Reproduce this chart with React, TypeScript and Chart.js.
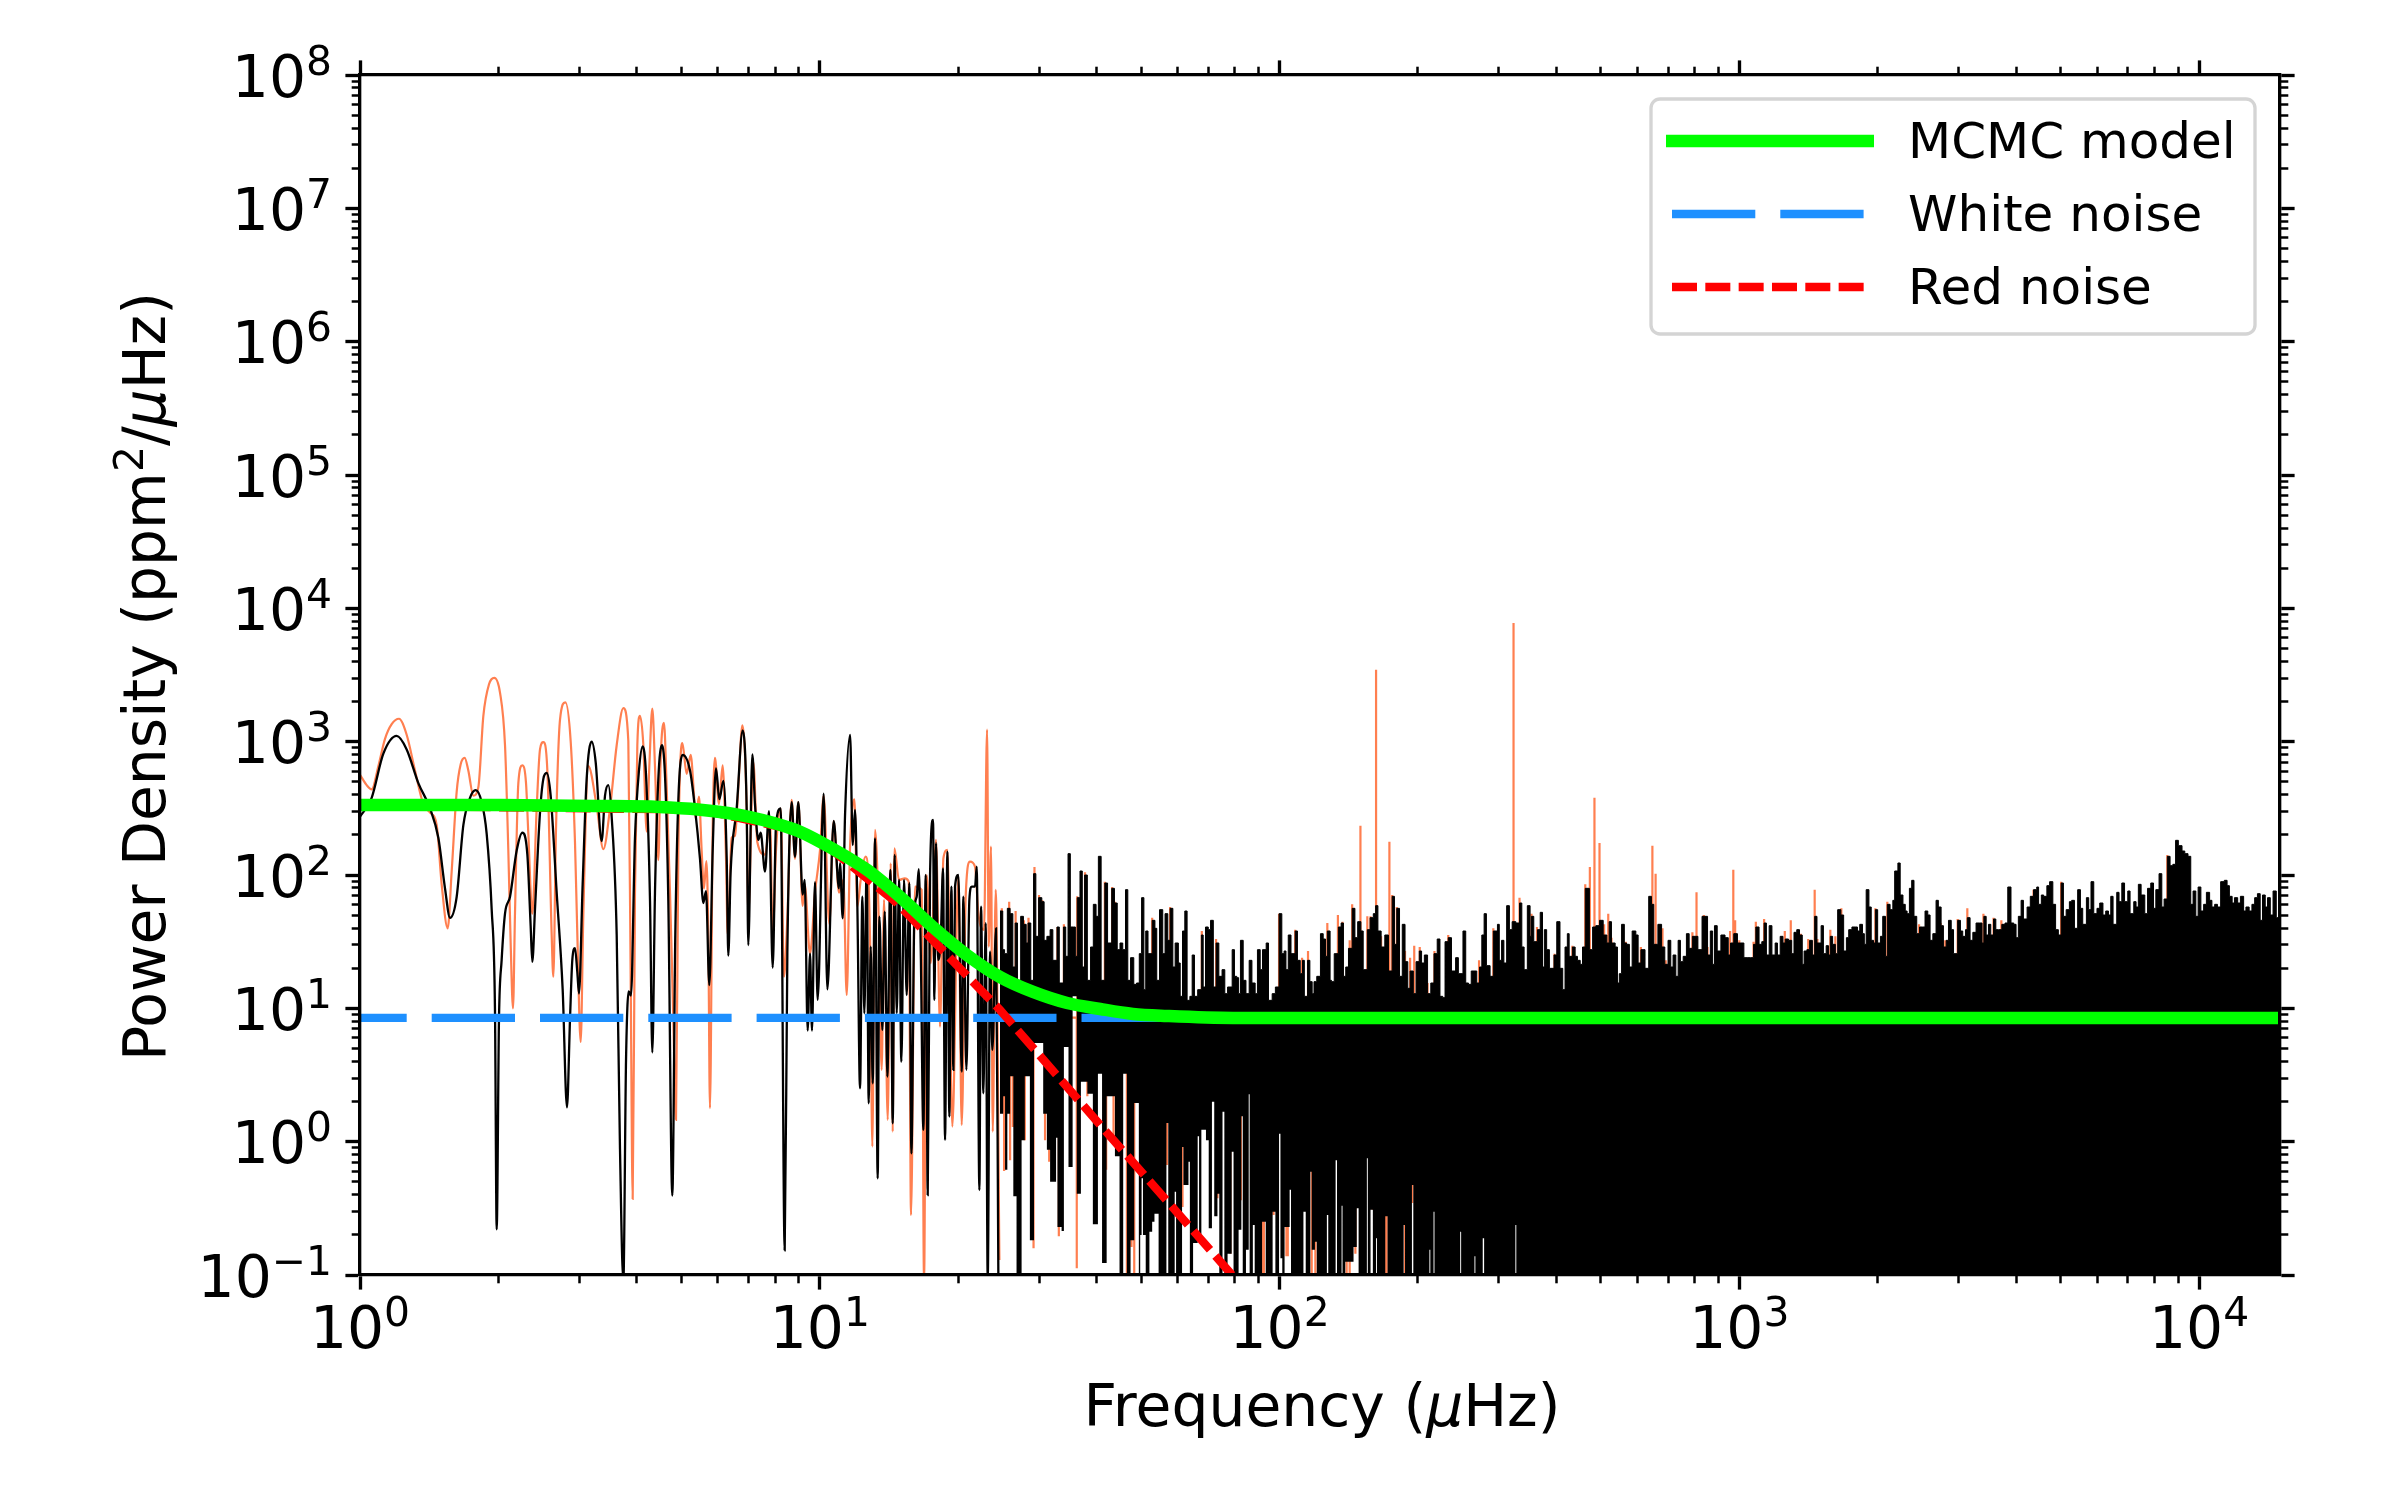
import { useEffect, useRef } from "react";
import { Chart, registerables } from "chart.js";

Chart.register(...registerables);

const FONT = "'DejaVu Sans'";
const TEXT_SIZE = 58.33;

const xDecades = [1, 10, 100, 1000, 10000];
const xExponents = ["0", "1", "2", "3", "4"];
const yDecades = [0.1, 1, 10, 100, 1000, 1e4, 1e5, 1e6, 1e7, 1e8];
const yExponents = ["−1", "0", "1", "2", "3", "4", "5", "6", "7", "8"];
const minorSteps = [2, 3, 4, 5, 6, 7, 8, 9];

// all traces below as [log10 frequency, log10 power]
const modelCurve = [[0,2.525],[0.305,2.525],[0.522,2.518],[0.65,2.51],[0.74,2.49],[0.8,2.465],[0.848,2.435],[0.9,2.39],[0.957,2.325],[1.029,2.195],[1.103,2.038],[1.175,1.835],[1.246,1.61],[1.32,1.4],[1.392,1.235],[1.464,1.123],[1.538,1.04],[1.61,0.995],[1.681,0.958],[1.755,0.943],[1.899,0.928],[4.18,0.928]];
const whiteCurve = [[0,0.928],[4.18,0.928]];
const redCurve = [[0,2.52],[0.74,2.49],[0.957,2.33],[1.029,2.18],[1.168,1.79],[1.392,0.988],[1.61,0.125],[1.893,-0.985],[2.2,-2.2]];

// black periodogram, low frequencies, where single lobes can be followed
const smoothedTrace = [[0,2.437],[0.0254,2.579],[0.0508,2.91],[0.0798,3.043],[0.1015,2.942],[0.1269,2.689],[0.1523,2.5],[0.1704,2.279],[0.1849,1.9],[0.1958,1.679],[0.2103,1.837],[0.2248,2.374],[0.2393,2.579],[0.2516,2.636],[0.2646,2.547],[0.2755,2.31],[0.2864,1.742],[0.2936,0.984],[0.2973,-0.657],[0.3023,0.921],[0.3081,1.363],[0.3154,1.711],[0.3263,1.837],[0.3408,2.184],[0.3531,2.317],[0.364,2.153],[0.3712,1.616],[0.3748,1.348],[0.3806,1.742],[0.3915,2.468],[0.3988,2.721],[0.406,2.765],[0.4147,2.595],[0.4278,1.868],[0.4408,1.142],[0.4502,0.258],[0.4568,0.921],[0.4618,1.363],[0.4676,1.452],[0.4727,1.269],[0.4763,1.111],[0.4843,1.932],[0.493,2.721],[0.5039,3],[0.5126,2.847],[0.5256,2.254],[0.5329,2.595],[0.5401,2.674],[0.5474,2.437],[0.5583,1.553],[0.5655,-0.057],[0.5728,-1.05],[0.5786,0.606],[0.5844,1.127],[0.5894,1.095],[0.5981,2.279],[0.6068,2.784],[0.6148,2.964],[0.6221,2.752],[0.6308,1.805],[0.6358,0.669],[0.6416,1.868],[0.6489,2.721],[0.6569,2.973],[0.6641,2.689],[0.6706,1.805],[0.6793,-0.405],[0.6858,1.553],[0.6924,2.563],[0.7018,2.901],[0.7178,2.784],[0.7286,2.5],[0.7395,2.121],[0.7468,1.79],[0.7526,1.878],[0.7598,1.174],[0.7671,2.184],[0.7743,2.8],[0.7816,2.569],[0.7903,2.705],[0.7976,2.121],[0.8011,1.395],[0.8062,2.026],[0.8193,2.5],[0.8323,3.084],[0.841,2.5],[0.8446,1.474],[0.8533,2.904],[0.8591,2.532],[0.8664,2.263],[0.8715,2.317],[0.8809,2.026],[0.8896,2.478],[0.8976,1.306],[0.9048,2.374],[0.915,2.5],[0.9237,-0.815],[0.9295,1.411],[0.9389,2.547],[0.9461,2.137],[0.9534,2.547],[0.9628,1.853],[0.9672,1.963],[0.9737,0.833],[0.9788,1.411],[0.9831,0.833],[0.9896,1.947],[0.9954,1.063],[1.0085,2.61],[1.0165,1.142],[1.0303,2.405],[1.0418,1.9],[1.0441,2.088],[1.0499,1.675],[1.055,2.45],[1.066,3.05],[1.0717,2.225],[1.0767,2.488],[1.0818,1.763],[1.0876,0.4],[1.0927,1.838],[1.097,0.963],[1.1021,2.088],[1.1065,0.288],[1.1108,1.463],[1.1152,0.438],[1.1202,2.275],[1.126,-0.275],[1.1297,1.688],[1.1362,0.838],[1.1413,1.725],[1.147,0.488],[1.1536,2.038],[1.1587,0.138],[1.163,2.15],[1.1674,0.963],[1.1724,1.963],[1.1775,0.6],[1.1833,1.963],[1.1891,1.1],[1.1949,1.938],[1.1993,-0.088],[1.2058,1.713],[1.2109,1.838],[1.2152,2.043],[1.2196,1.45],[1.2254,0.088],[1.2304,2],[1.2348,-0.4],[1.2399,2],[1.2464,2.413],[1.2493,1.063],[1.2529,2.238],[1.2573,1.363],[1.2631,1.513],[1.2681,2.05],[1.2725,0.013],[1.2776,2.175],[1.2819,0.188],[1.2863,1.913],[1.2906,0.538],[1.2942,1.913],[1.3015,2],[1.3087,0.525],[1.3124,1.838],[1.3189,0.538],[1.3254,1.813],[1.3305,1.913],[1.3377,1.913],[1.3414,2.063],[1.3472,-0.363],[1.3508,1.763],[1.3559,0.363],[1.3609,1.638],[1.3653,-1.04],[1.3704,1.425],[1.3754,0.688],[1.3834,1.6],[1.3885,-1.04]];

// black periodogram above that: too dense for a single line, so top and bottom edge of the mass
const smoothedTop = [[1.392,1.73],[1.398,1.44],[1.402,1.41],[1.408,1.75],[1.414,1.71],[1.42,1.31],[1.425,1.64],[1.43,1.21],[1.437,1.69],[1.443,1.63],[1.449,1.49],[1.453,1.64],[1.459,1.21],[1.465,2.01],[1.47,1.54],[1.476,1.83],[1.483,1.8],[1.488,1.51],[1.494,1.54],[1.501,1.59],[1.507,1.36],[1.516,1.61],[1.521,1.19],[1.53,1.61],[1.535,1.39],[1.54,2.16],[1.545,1.61],[1.552,1.61],[1.556,1.39],[1.56,1.83],[1.566,2.03],[1.571,1.31],[1.576,2],[1.582,1.21],[1.589,1.46],[1.595,1.78],[1.601,1.69],[1.606,2.14],[1.612,1.21],[1.62,1.94],[1.626,1.49],[1.635,1.9],[1.641,1.79],[1.647,1.44],[1.653,1.49],[1.659,1.44],[1.665,1.89],[1.67,1.21],[1.676,1.38],[1.683,1.18],[1.689,1.19],[1.695,1.41],[1.7,1.83],[1.705,1.14],[1.709,1.58],[1.714,1.41],[1.723,1.66],[1.729,1.6],[1.733,1.21],[1.739,1.74],[1.746,1.41],[1.751,1.71],[1.757,1.51],[1.762,1.75],[1.768,1.31],[1.773,1.49],[1.78,1.34],[1.784,1.09],[1.789,1.58],[1.794,1.73],[1.799,1.06],[1.805,1.09],[1.81,1.4],[1.815,1.09],[1.822,1.14],[1.83,1.55],[1.834,1.16],[1.839,1.61],[1.845,1.59],[1.85,1.66],[1.856,1.16],[1.862,1.49],[1.868,1.24],[1.875,1.29],[1.881,1.11],[1.887,1.16],[1.897,1.44],[1.902,1.24],[1.907,1.23],[1.911,1.11],[1.915,1.51],[1.921,1.21],[1.927,1.11],[1.934,1.36],[1.94,1.19],[1.947,1.11],[1.952,1.44],[1.958,1.29],[1.963,1.44],[1.971,1.49],[1.976,1.06],[1.984,1.11],[1.991,1.16],[1.999,1.71],
[2.005,1.41],[2.01,1.43],[2.014,1.29],[2.019,1.55],[2.025,1.41],[2.034,1.58],[2.039,1.36],[2.045,1.26],[2.05,1.36],[2.054,1.09],[2.061,1.36],[2.066,1.2],[2.071,1.11],[2.075,1.2],[2.081,1.24],[2.089,1.56],[2.095,1.52],[2.1,1.39],[2.104,1.58],[2.11,1.21],[2.113,1.2],[2.119,1.41],[2.128,1.61],[2.134,1.64],[2.139,1.24],[2.144,1.31],[2.15,1.45],[2.158,1.75],[2.164,1.53],[2.17,1.65],[2.177,1.58],[2.182,1.29],[2.191,1.59],[2.197,1.68],[2.204,1.71],[2.209,1.77],[2.214,1.58],[2.221,1.46],[2.229,1.55],[2.237,1.28],[2.245,1.84],[2.25,1.48],[2.255,1.75],[2.261,1.24],[2.267,1.63],[2.273,1.35],[2.279,1.15],[2.284,1.28],[2.291,1.11],[2.297,1.35],[2.304,1.43],[2.309,1.34],[2.315,1.4],[2.322,1.11],[2.329,1.19],[2.336,1.41],[2.343,1.52],[2.349,1.09],[2.355,1.08],[2.36,1.5],[2.367,1.53],[2.374,1.28],[2.383,1.38],[2.389,1.26],[2.399,1.58],[2.405,1.19],[2.411,1.18],[2.417,1.28],[2.423,1.28],[2.429,1.19],[2.435,1.31],[2.44,1.55],[2.445,1.71],[2.45,1.32],[2.458,1.24],[2.465,1.58],[2.474,1.63],[2.478,1.36],[2.483,1.51],[2.488,1.34],[2.494,1.77],[2.5,1.59],[2.506,1.65],[2.514,1.64],[2.522,1.79],[2.527,1.46],[2.532,1.29],[2.539,1.77],[2.545,1.54],[2.548,1.69],[2.553,1.5],[2.561,1.59],[2.567,1.72],[2.572,1.31],[2.576,1.59],[2.581,1.44],[2.587,1.3],[2.597,1.4],[2.603,1.65],[2.61,1.3],[2.616,1.14],[2.621,1.46],[2.626,1.56],[2.63,1.39],[2.637,1.46],[2.643,1.39],[2.648,1.36],[2.654,1.33],[2.659,1.46],[2.665,1.9],[2.674,1.44],[2.681,1.61],[2.688,1.62],[2.696,1.66],[2.704,1.55],[2.712,1.49],[2.717,1.65],[2.722,1.49],[2.73,1.46],[2.735,1.19],[2.739,1.26],[2.744,1.63],[2.75,1.49],[2.755,1.48],[2.761,1.31],[2.767,1.58],[2.775,1.55],[2.78,1.34],[2.786,1.44],[2.795,1.3],[2.803,1.84],[2.809,1.78],[2.814,1.48],[2.823,1.63],[2.831,1.46],[2.838,1.33],[2.845,1.51],[2.851,1.31],[2.856,1.4],[2.862,1.24],[2.867,1.51],[2.872,1.35],[2.878,1.39],[2.885,1.56],[2.891,1.45],[2.898,1.54],[2.904,1.54],[2.91,1.44],[2.919,1.69],[2.925,1.69],[2.931,1.4],[2.937,1.58],[2.942,1.33],[2.946,1.62],[2.952,1.43],[2.96,1.55],[2.969,1.53],[2.976,1.4],[2.981,1.49],[2.988,1.56],[2.996,1.49],[3.002,1.49],[3.01,1.38],[3.017,1.38],[3.025,1.38],[3.031,1.48],[3.036,1.61],[3.043,1.48],[3.049,1.5],[3.054,1.64],[3.059,1.4],[3.065,1.62],[3.071,1.4],[3.078,1.49],[3.083,1.4],
[3.089,1.54],[3.095,1.49],[3.1,1.52],[3.107,1.51],[3.114,1.41],[3.119,1.57],[3.125,1.59],[3.131,1.55],[3.137,1.33],[3.141,1.43],[3.147,1.44],[3.153,1.51],[3.159,1.4],[3.164,1.69],[3.169,1.49],[3.178,1.62],[3.183,1.41],[3.189,1.47],[3.194,1.4],[3.198,1.54],[3.203,1.48],[3.209,1.41],[3.214,1.74],[3.221,1.7],[3.227,1.43],[3.233,1.53],[3.238,1.59],[3.245,1.61],[3.252,1.61],[3.257,1.58],[3.262,1.63],[3.268,1.56],[3.272,1.48],[3.276,1.89],[3.282,1.76],[3.287,1.51],[3.292,1.49],[3.296,1.74],[3.301,1.49],[3.307,1.54],[3.312,1.69],[3.318,1.39],[3.322,1.78],[3.328,1.74],[3.334,1.81],[3.338,2.03],[3.345,2.09],[3.35,1.85],[3.356,1.78],[3.361,1.73],[3.365,1.71],[3.37,1.9],[3.375,1.96],[3.38,1.69],[3.386,1.56],[3.392,1.61],[3.399,1.61],[3.404,1.73],[3.41,1.7],[3.415,1.51],[3.421,1.56],[3.428,1.81],[3.433,1.76],[3.439,1.62],[3.444,1.46],[3.45,1.51],[3.455,1.66],[3.461,1.59],[3.466,1.41],[3.475,1.66],[3.481,1.58],[3.486,1.54],[3.492,1.59],[3.496,1.68],[3.502,1.51],[3.508,1.57],[3.515,1.64],[3.522,1.64],[3.528,1.49],[3.532,1.69],[3.537,1.55],[3.542,1.63],[3.547,1.55],[3.553,1.67],[3.558,1.59],[3.564,1.59],[3.571,1.63],[3.578,1.64],[3.584,1.91],[3.591,1.64],[3.597,1.63],[3.602,1.53],[3.607,1.69],[3.613,1.81],[3.618,1.67],[3.626,1.76],[3.633,1.84],[3.64,1.89],[3.647,1.91],[3.651,1.78],[3.657,1.85],[3.662,1.84],[3.669,1.92],[3.675,1.95],[3.682,1.78],[3.688,1.59],[3.694,1.55],[3.7,1.94],[3.705,1.69],[3.711,1.74],[3.718,1.8],[3.723,1.81],[3.729,1.6],[3.736,1.89],[3.742,1.75],[3.747,1.63],[3.755,1.83],[3.76,1.74],[3.765,1.95],[3.771,1.71],[3.778,1.75],[3.784,1.79],[3.791,1.7],[3.797,1.73],[3.803,1.7],[3.808,1.84],[3.813,1.63],[3.821,1.87],[3.826,1.8],[3.832,1.94],[3.838,1.8],[3.845,1.88],[3.85,1.71],[3.858,1.8],[3.863,1.76],[3.868,1.93],[3.874,1.85],[3.882,1.71],[3.888,1.9],[3.895,1.94],[3.901,1.75],[3.906,1.89],[3.913,2.01],[3.919,1.76],[3.924,1.82],[3.931,2.14],[3.937,2.07],[3.943,2.08],[3.949,2.26],[3.955,2.22],[3.963,2.18],[3.969,2.16],[3.976,2.14],[3.982,1.78],[3.987,1.88],[3.993,1.69],[3.998,1.91],[4.004,1.73],[4.01,1.78],[4.016,1.87],[4.023,1.81],[4.028,1.76],[4.034,1.78],[4.04,1.76],[4.047,1.95],[4.055,1.96],[4.061,1.92],[4.066,1.84],[4.072,1.79],[4.077,1.83],[4.084,1.79],[4.09,1.84],[4.097,1.73],[4.102,1.76],[4.109,1.73],[4.115,1.78],[4.121,1.83],[4.127,1.86],[4.133,1.66],[4.138,1.85],[4.144,1.76],[4.149,1.83],[4.155,1.7],[4.161,1.88],[4.168,1.68],[4.173,1.84],[4.18,1.84]];
const smoothedFloor = [[1.392,0.21],[1.399,0.34],[1.403,-0.21],[1.408,0.21],[1.414,0.49],[1.421,-0.41],[1.428,-1.05],[1.439,0.01],[1.446,0.49],[1.457,-0.74],[1.466,0.74],[1.486,0.21],[1.494,-0.06],[1.501,-0.3],[1.514,0.03],[1.517,-0.64],[1.526,-0.67],[1.531,0.71],[1.541,-0.19],[1.55,1.09],[1.559,-0.39],[1.568,0.45],[1.582,0.36],[1.594,-0.62],[1.605,0.51],[1.614,-0.91],[1.624,0.34],[1.642,-0.11],[1.652,-1.05],[1.66,0.51],[1.668,-1.05],[1.676,-0.74],[1.684,0.29],[1.694,-1.05],
[1.697,-0.7],[1.7,-0.275],[1.703,-0.7],[1.709,-1.05],[1.717,-0.675],[1.723,-0.6],[1.728,-0.54],[1.737,-1.05],[1.754,0.14],[1.758,-1.05],[1.772,-0.375],[1.775,-1.05],[1.788,-0.04],[1.791,-0.325],[1.802,-0.15],[1.805,-1.05],[1.812,-0.76],[1.822,0.04],[1.825,-0.76],[1.83,0.09],[1.84,0.01],[1.846,-0.65],[1.853,0.3],[1.858,-0.56],[1.865,-0.39],[1.869,-1.05],[1.876,0.225],[1.88,-1.05],[1.887,-0.84],[1.896,-0.075],[1.9,-1.05],[1.911,-0.66],[1.917,0.19],[1.92,-1.05],[1.927,-0.81],[1.933,0.355],[1.935,-1.05],[1.942,-0.625],[1.946,-1.05],[1.962,-0.6],[1.97,-1.05],[1.985,-0.525],[1.991,-1.05],[1.999,0.06],[2.002,-0.875],[2.006,-1.05],[2.011,-0.64],[2.022,-0.36],[2.025,-1.05],[2.033,-1],[2.036,-1.05],[2.052,-0.525],[2.057,-1.05],[2.067,-0.225],[2.07,-0.81],[2.077,-0.75],[2.081,-1.05],[2.103,-0.55],[2.106,-1.05],[2.122,-0.14],[2.125,-1.05],[2.135,-0.48],[2.137,-1.05],[2.143,-0.9],[2.161,-0.79],[2.168,-0.5],[2.172,-1.05],[2.19,-0.125],[2.192,-1.05],[2.198,-0.51],[2.203,-1.05],[2.21,-0.725],[2.212,-1.05],[2.23,-0.56],[2.235,-1.05],[2.27,-0.625],[2.273,-1.05],[2.288,-0.325],[2.291,-1.05],[2.326,-0.81],[2.328,-1.05],[2.335,-0.525],[2.337,-1.05],[2.393,-0.675],[2.395,-1.05],[2.424,-0.86],[2.426,-1.05],[2.442,-0.725],[2.445,-1.05],[2.513,-0.625],[2.515,-1.05],[4.18,-1.05]];

// coral periodogram, continuous part
const rawTrace = [[0,2.752],[0.0145,2.674],[0.0254,2.642],[0.0399,2.816],[0.0544,3.021],[0.0689,3.131],[0.0848,3.172],[0.1015,3.052],[0.1196,2.784],[0.1378,2.531],[0.1523,2.468],[0.1668,2.374],[0.1776,1.932],[0.1907,1.6],[0.1994,2.026],[0.2103,2.626],[0.219,2.831],[0.2277,2.879],[0.2356,2.784],[0.2465,2.595],[0.2574,2.658],[0.2683,3.194],[0.2806,3.431],[0.2922,3.479],[0.3045,3.368],[0.3154,2.973],[0.3226,2.184],[0.3277,1.49],[0.3328,1],[0.3371,1.711],[0.3444,2.689],[0.3531,2.822],[0.3611,2.689],[0.3661,2.31],[0.3748,1.711],[0.3843,2.5],[0.3915,2.942],[0.3988,2.996],[0.4075,2.784],[0.4169,1.553],[0.4205,1.237],[0.4263,2.342],[0.435,3.163],[0.4466,3.295],[0.4582,3.005],[0.4676,2.247],[0.4727,1.553],[0.48,0.748],[0.4858,1.711],[0.4966,2.816],[0.5148,2.516],[0.5293,2.194],[0.5438,2.5],[0.5583,2.973],[0.5728,3.251],[0.5836,3.005],[0.5887,1.237],[0.5931,-0.43],[0.5981,1.868],[0.6032,2.973],[0.609,3.194],[0.6163,2.973],[0.6235,2.326],[0.6293,2.816],[0.6358,3.248],[0.6416,2.816],[0.6489,2.112],[0.654,2.879],[0.6612,3.141],[0.667,2.658],[0.6743,1.868],[0.6815,0.921],[0.6873,0.164],[0.6924,2.184],[0.7011,2.989],[0.7105,2.759],[0.7192,2.901],[0.7265,2.595],[0.7301,2.421],[0.7373,2.588],[0.7431,2.184],[0.7482,1.9],[0.7533,2.105],[0.7576,1.553],[0.7612,0.252],[0.7671,2.342],[0.7721,2.879],[0.7808,2.531],[0.7888,2.822],[0.7961,2.121],[0.7997,1.553],[0.8084,2.279],[0.8156,2.295],[0.8229,2.658],[0.8316,3.122],[0.841,2.5],[0.8446,1.711],[0.8555,2.847],[0.8642,2.247],[0.8809,2.153],[0.8918,2.405],[0.8976,1.553],[0.9048,2.184],[0.915,2.5],[0.9222,1.237],[0.9295,1.679],[0.9389,2.563],[0.9461,2.121],[0.9534,2.547],[0.9628,1.768],[0.9672,1.932],[0.9788,1.411],[0.9896,1.868],[1.0005,2.184],[1.0085,2.595],[1.0208,1.632],[1.0303,2.405],[1.0418,1.868],[1.0514,1.963],[1.0586,1.1],[1.0659,2.213],[1.0753,2.568],[1.0818,1.763],[1.0891,1.963],[1.0999,2.138],[1.1094,1.513],[1.1144,-0.037],[1.1202,2.338],[1.1275,1.763],[1.1347,0.538],[1.1398,1.813],[1.1478,0.163],[1.1543,2.088],[1.1587,0.075],[1.1623,2.2],[1.1724,1.963],[1.1848,1.975],[1.1935,1.95],[1.1985,-0.55],[1.2072,1.913],[1.2217,1.888],[1.2268,-1.05],[1.2326,2],[1.2413,1.338],[1.2529,2.263],[1.2616,0.863],[1.2689,2.125],[1.2776,2.188],[1.2884,0.113],[1.3015,1.988],[1.3087,0.125],[1.3174,1.838],[1.3269,2.1],[1.3377,2.063],[1.345,1.713],[1.3573,1.588],[1.3639,3.09],[1.3675,1.463],[1.3725,2.213],[1.3762,0.075],[1.3827,1.888],[1.3907,-0.887]];

// coral tips that stick out of the black mass, above it or in its gaps
const rawSpikes = [[1.396,1.75],[1.401,-0.22],[1.412,1.8],[1.414,-0.14],[1.42,0.11],[1.426,1.73],[1.435,-1.05],[1.444,1.66],[1.446,0.01],[1.454,1.68],[1.465,-0.8],[1.467,2.06],[1.477,1.85],[1.484,1.81],[1.49,0.01],[1.499,-0.15],[1.517,1.61],[1.52,-0.71],[1.531,1.63],[1.559,-0.95],[1.56,1.84],[1.577,2.02],[1.582,0.34],[1.62,1.95],[1.623,-0.21],[1.636,1.91],[1.639,-0.01],[1.642,1.8],[1.668,-1.05],[1.678,-0.79],[1.684,-1.05],[1.723,1.68],[1.755,-0.175],[1.762,1.76],[1.78,1.34],[1.789,-0.49],[1.831,1.58],[1.862,1.52],[1.865,-0.425],[1.893,-0.84],[1.916,-0.44],[1.963,-1.05],[1.966,-1.05],[1.987,-0.55],[1.999,1.71],[2.015,-0.86],[2.018,-0.86],[2.034,1.59],[2.049,1.38],[2.062,1.43],[2.07,-1.05],[2.078,-1.05],[2.104,1.64],[2.127,1.7],[2.137,1.65],[2.146,-1.05],[2.152,-1.05],[2.153,1.51],[2.158,1.78],[2.165,-0.84],[2.176,2.37],[2.191,1.69],[2.198,1.69],[2.203,-0.51],[2.21,3.54],[2.221,1.54],[2.23,-1.05],[2.233,-1.05],[2.239,2.25],[2.245,1.85],[2.255,1.76],[2.273,1.43],[2.273,-1.05],[2.284,1.38],[2.289,-0.46],[2.293,1.47],[2.305,1.46],[2.322,1.19],[2.337,1.43],[2.367,1.55],[2.434,1.36],[2.465,1.6],[2.503,-1.05],[2.509,3.89],[2.522,1.83],[2.548,1.71],[2.56,1.61],[2.598,1.41],[2.637,1.47],[2.665,1.93],[2.675,2.06],[2.685,2.58],[2.696,2.24],[2.706,1.63],[2.715,1.71],[2.722,1.53],[2.753,1.5],[2.786,1.46],[2.811,2.22],[2.818,2.01],[2.833,1.6],[2.84,1.36],[2.898,1.57],[2.907,1.87],[2.923,1.7],[2.931,1.46],[2.98,1.58],[2.987,2.04],[2.991,1.66],[3,1.51],[3.031,1.5],[3.036,1.65],[3.054,1.67],[3.099,1.58],[3.112,1.66],[3.134,1.56],[3.15,1.52],[3.164,1.89],[3.17,1.52],[3.198,1.59],[3.209,1.54],[3.222,1.75],[3.296,1.75],[3.322,1.8],[3.391,1.63],[3.438,1.64],[3.448,1.51],[3.475,1.67],[3.496,1.75],[3.531,1.71],[3.553,1.68],[3.57,1.66],[3.64,1.89],[3.7,1.95],[3.931,2.15]];
const spikeBase = 0.93;

const toXY = (pairs: number[][]) => pairs.map(([f, p]) => ({ x: 10 ** f, y: 10 ** p }));
const spikesToXY = (pairs: number[][]) =>
  toXY(pairs.flatMap(([f, p]) => [[f, spikeBase], [f, p], [f, spikeBase]]));

const minorsOf = (decades: number[], max: number) =>
  decades.flatMap((d) => minorSteps.map((m) => m * d)).filter((v) => v < max);

// one log axis; tickValues decides what it marks, the frame is four major and four minor axes
function logAxis(axis: string, position: string, tickValues: number[], major: boolean, size: number) {
  const horizontal = axis === "x";
  return {
    type: "logarithmic",
    axis,
    position,
    min: horizontal ? 1 : 0.1,
    max: horizontal ? 15000 : 1e8,
    weight: major ? 0 : -1,
    afterBuildTicks: (s: any) => {
      s.ticks = tickValues.map((value) => ({ value, major }));
    },
    afterFit: (s: any) => {
      if (horizontal) s.height = size;
      else s.width = size;
    },
    grid: {
      drawOnChartArea: false,
      tickLength: major ? 14.6 : 8.3,
      tickWidth: major ? 3.33 : 2.5,
      tickColor: "#000",
    },
    border: { display: major, color: "#000", width: 3.33, z: 1 },
    ticks: { display: false, autoSkip: false },
  };
}

type Run = { text: string; sup?: boolean; italic?: boolean };

// canvas text has no superscripts, so mixed labels are drawn run by run
function drawRuns(ctx: any, runs: Run[], x: number, y: number, align: string) {
  const fontOf = (r: Run) =>
    `${r.italic ? "italic " : ""}${r.sup ? TEXT_SIZE * 0.7 : TEXT_SIZE}px ${FONT}`;
  const total = runs.reduce((sum, r) => {
    ctx.font = fontOf(r);
    return sum + ctx.measureText(r.text).width;
  }, 0);
  let cx = align === "right" ? x - total : align === "center" ? x - total / 2 : x;
  runs.forEach((r) => {
    ctx.font = fontOf(r);
    ctx.fillText(r.text, cx, r.sup ? y - 22 : y);
    cx += ctx.measureText(r.text).width;
  });
}

const xTitle: Run[] = [{ text: "Frequency (" }, { text: "μ", italic: true }, { text: "Hz)" }];
const yTitle: Run[] = [{ text: "Power Density (ppm" }, { text: "2", sup: true }, { text: "/" }, { text: "μ", italic: true }, { text: "Hz)" }];

const axisTextPlugin = {
  id: "axisText",
  afterDraw(chart: any) {
    const { ctx, scales } = chart;
    ctx.save();
    ctx.fillStyle = "#000";
    ctx.textBaseline = "alphabetic";
    xDecades.forEach((v, i) => {
      drawRuns(ctx, [{ text: "10" }, { text: xExponents[i], sup: true }], scales.x.getPixelForValue(v), 1348, "center");
    });
    yDecades.forEach((v, i) => {
      drawRuns(ctx, [{ text: "10" }, { text: yExponents[i], sup: true }], 332, scales.y.getPixelForValue(v) + 21.6, "right");
    });
    drawRuns(ctx, xTitle, 1322, 1425.7, "center");
    ctx.translate(165, 676.5);
    ctx.rotate(-Math.PI / 2);
    drawRuns(ctx, yTitle, 0, 0, "center");
    ctx.restore();
  },
};

const legendEntries = ["MCMC model", "White noise", "Red noise"];

// legend box with the frame of the reference, styled from the datasets themselves
const legendBoxPlugin = {
  id: "legendBox",
  afterDraw(chart: any) {
    const { ctx } = chart;
    ctx.save();
    ctx.beginPath();
    ctx.roundRect(1651, 99, 604, 235, 9);
    ctx.fillStyle = "#fff";
    ctx.fill();
    ctx.lineWidth = 3.33;
    ctx.strokeStyle = "#d4d4d4";
    ctx.stroke();
    legendEntries.forEach((label, i) => {
      const ds = chart.data.datasets.find((d: any) => d.label === label);
      const y = 141 + i * 73;
      ctx.beginPath();
      ctx.setLineDash(ds.borderDash || []);
      ctx.lineWidth = ds.borderWidth;
      ctx.strokeStyle = ds.borderColor;
      ctx.moveTo(ds.borderDash ? 1672 : 1666, y);
      ctx.lineTo(ds.borderDash ? 1866 : 1874, y);
      ctx.stroke();
      ctx.setLineDash([]);
      ctx.fillStyle = "#000";
      ctx.font = `50px ${FONT}`;
      ctx.textBaseline = "alphabetic";
      ctx.fillText(label, 1908, y + 16.5);
    });
    ctx.restore();
  },
};

export default function App() {
  const canvasRef = useRef<HTMLCanvasElement | null>(null);

  useEffect(() => {
    if (!canvasRef.current) return;
    document.body.style.margin = "0";

    const line = { pointRadius: 0, fill: false, clip: 0, borderCapStyle: "butt" };

    const chart = new Chart(canvasRef.current, {
      type: "line",
      data: {
        datasets: [
          { ...line, label: "MCMC model", data: toXY(modelCurve), borderColor: "#00ff00", borderWidth: 12.5, cubicInterpolationMode: "monotone", order: 0 },
          { ...line, label: "Red noise", data: toXY(redCurve), borderColor: "#ff0000", borderWidth: 8.33, borderDash: [25, 8.33], borderDashOffset: 27.6, order: 1 },
          { ...line, label: "White noise", data: toXY(whiteCurve), borderColor: "#1e90ff", borderWidth: 8.33, borderDash: [83.3, 25], borderDashOffset: 36.6, order: 2 },
          { ...line, data: toXY(smoothedTrace), borderColor: "#000", borderWidth: 2.3, cubicInterpolationMode: "monotone", order: 3 },
          { ...line, data: toXY(smoothedTop), borderColor: "#000", backgroundColor: "#000", borderWidth: 1, stepped: true, fill: "+1", order: 4 },
          { ...line, data: toXY(smoothedFloor), borderWidth: 0, borderColor: "#000", stepped: true, order: 5 },
          { ...line, data: toXY(rawTrace), borderColor: "#ff7f50", borderWidth: 2.2, cubicInterpolationMode: "monotone", order: 6 },
          { ...line, data: spikesToXY(rawSpikes), borderColor: "#ff7f50", borderWidth: 2.2, borderJoinStyle: "bevel", order: 7 },
        ],
      },
      options: {
        responsive: false,
        devicePixelRatio: 1,
        animation: false,
        events: [],
        layout: { padding: 0 },
        plugins: { legend: { display: false }, tooltip: { enabled: false } },
        scales: {
          x: logAxis("x", "bottom", xDecades, true, 225),
          xMinor: logAxis("x", "bottom", minorsOf(xDecades, 15000), false, 0),
          xTop: logAxis("x", "top", xDecades, true, 75),
          xTopMinor: logAxis("x", "top", minorsOf(xDecades, 15000), false, 0),
          y: logAxis("y", "left", yDecades, true, 360),
          yMinor: logAxis("y", "left", minorsOf(yDecades, 1e8), false, 0),
          yRight: logAxis("y", "right", yDecades, true, 120),
          yRightMinor: logAxis("y", "right", minorsOf(yDecades, 1e8), false, 0),
        },
      },
      plugins: [axisTextPlugin, legendBoxPlugin],
    } as any);

    return () => chart.destroy();
  }, []);

  return <canvas ref={canvasRef} width={2400} height={1500} style={{ display: "block" }} />;
}
